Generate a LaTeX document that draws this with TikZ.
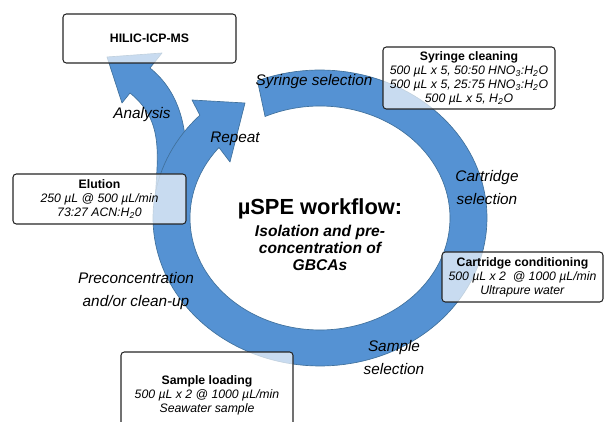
\documentclass[tikz,border=0pt]{standalone}
\usepackage{fontspec}
\setmainfont{Liberation Sans}
\definecolor{myflowcolor}{HTML}{5592D3}
\definecolor{myflowedge}{HTML}{41719C}

\begin{document}
\begin{tikzpicture}[x=0.75pt, y=0.75pt,
  flowshape/.style={fill=myflowcolor, draw=myflowedge, line width=0.5pt, line join=round},
  stepbox/.style={draw=black!85, line width=0.8pt, rounded corners=2.5pt, fill=white, fill opacity=0.68, text opacity=1, align=center, inner sep=0pt, font=\fontsize{9.2pt}{10.5pt}\selectfont},
  flowlabel/.style={align=center, inner sep=0pt, font=\fontsize{11.5pt}{17.25pt}\selectfont\itshape}]%
\useasboundingbox (0, 0) rectangle (606, 421);%
\clip (0, 0) rectangle (606, 421);%
% analysis branch, drawn under the ring
\draw[flowshape] (155, 206) .. controls (154.7, 256) and (168.9, 296.6) .. (130, 328) -- (122, 318) -- (107, 364) -- (162, 368) -- (150, 353) .. controls (181, 328) and (188, 290) .. (186, 250) -- (170, 215) -- cycle;%
% ring arrow ending in the repeat head
\draw[flowshape] plot[domain=112:-224, samples=150, variable=\t] ({320+167*cos(\t)}, {203+148*sin(\t)}) -- (192, 321) -- (245, 318) -- (230, 259) -- plot[domain=-219:115, samples=150, variable=\t] ({320+130*cos(\t)}, {203+112*sin(\t)}) -- cycle;%
% boxes
\node[stepbox, minimum width=129.75pt, minimum height=36.75pt] (hilic) at (149.5, 382.5) {\textbf{HILIC-ICP-MS}};%
\node[stepbox, minimum width=129pt, minimum height=46.5pt] (cleaning) at (469, 343) {\textbf{Syringe cleaning}\\\textit{500 µL x 5, 50:50 HNO\textsubscript{3}:H\textsubscript{2}O}\\\textit{500 µL x 5, 25:75 HNO\textsubscript{3}:H\textsubscript{2}O}\\\textit{500 µL x 5, H\textsubscript{2}O}};%
\node[stepbox, minimum width=129.75pt, minimum height=37.5pt] (elution) at (99.5, 222) {\textbf{Elution}\\\textit{250 µL @ 500 µL/min}\\\textit{73:27 ACN:H\textsubscript{2}0}};%
\node[stepbox, minimum width=120.75pt, minimum height=37.5pt] (conditioning) at (522.5, 144) {\textbf{Cartridge conditioning}\\\textit{500 µL x 2 \ @ 1000 µL/min}\\\textit{Ultrapure water}};%
\node[stepbox, minimum width=129pt, minimum height=64.5pt] (loading) at (207, 26) {\textbf{Sample loading}\\\textit{500 µL x 2 @ 1000 µL/min}\\\textit{Seawater sample}};%
% step labels along the ring
\node[flowlabel] (lblsyringe) at (314, 339) {Syringe selection};%
\node[flowlabel] (lblanalysis) at (142, 306) {Analysis};%
\node[flowlabel] (lblrepeat) at (235, 282) {Repeat};%
\node[flowlabel] (lblcartridge) at (487, 233.5) {Cartridge\\selection};%
\node[flowlabel] (lblprecon) at (136, 129.5) {Preconcentration\\and/or clean-up};%
\node[flowlabel] (lblsample) at (394, 63.5) {Sample\\selection};%
% centre
\node[font=\fontsize{16.4pt}{18pt}\selectfont\bfseries] (title) at (320, 212) {µSPE workflow:};%
\node[align=center, font=\fontsize{11.7pt}{12.75pt}\selectfont\bfseries\itshape] (subtitle) at (320, 173.5) {Isolation and pre-\\concentration of\\GBCAs};%
\end{tikzpicture}
\end{document}
